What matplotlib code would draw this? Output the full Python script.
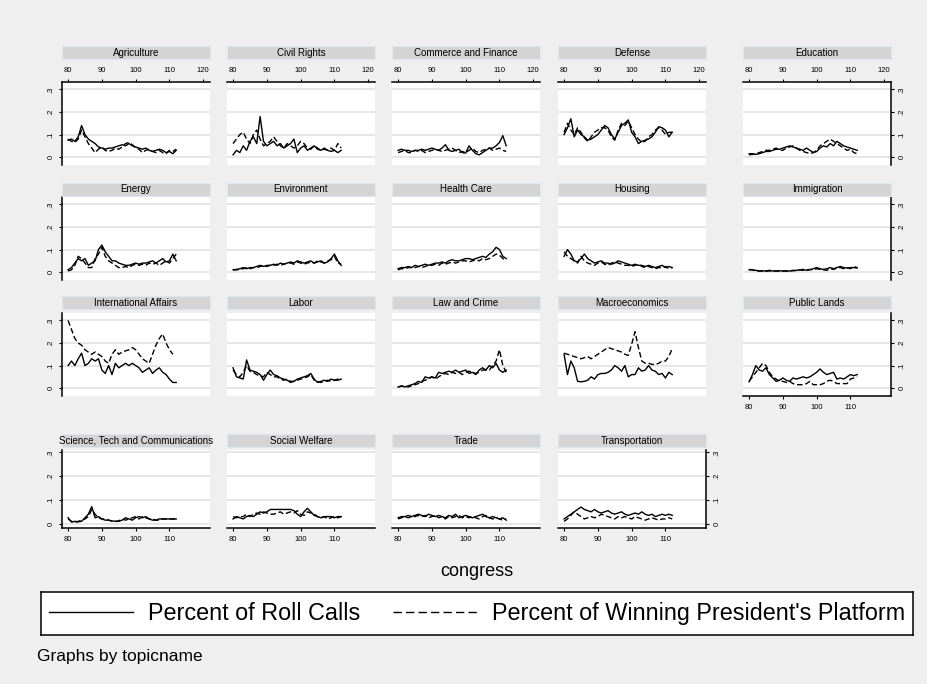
import numpy as np
import matplotlib
matplotlib.use("Agg")
import matplotlib.pyplot as plt
from matplotlib.lines import Line2D

plt.rcParams['font.family'] = ['Liberation Sans', 'DejaVu Sans']

nan = np.nan
congress = list(range(80, 113))

# percent of roll calls (solid) / percent of winning president's platform (dashed)
agri_roll = [.075,.08,.07,.09,.14,.10,.08,.07,.06,.045, .04,.035,.04,.04,.045,.05,.055,.05,.06,.05, .045,.04,.035,.04,.03,.025,.03,.035,.03,.02, .025,.015,.03]
agri_plat = [.08,.07,.065,.08,.12,.09,.06,.04,.02,.035, .045,.03,.025,.03,.04,.035,.045,.06,.065,.055, .04,.035,.02,.03,.035,.025,.02,.03,.02,.015, .03,.025,.035]
civil_roll = [.01,.03,.02,.05,.03,.07,.09,.06,.18,.07, .05,.06,.07,.05,.06,.04,.05,.06,.08,.02, .04,.05,.03,.04,.05,.035,.03,.04,.03,.025, .03,.02,.03]
civil_plat = [.06,.08,.1,.11,.08,.06,.1,.12,.08,.05, .06,.07,.09,.07,.05,.04,.06,.05,.04,.05, .07,.06,.04,.035,.05,.04,.03,.035,.03,.04, .03,.06,.04]
comm_roll = [.03,.035,.03,.03,.025,.03,.03,.035,.03,.035, .04,.035,.03,.04,.055,.03,.025,.03,.035,.02, .018,.05,.03,.015,.01,.02,.03,.04,.04,.05, .065,.095,.05]
comm_plat = [.02,.025,.03,.02,.02,.03,.025,.03,.02,.025, .03,.035,.03,.025,.03,.035,.04,.03,.02,.025, .02,.03,.04,.025,.02,.03,.035,.04,.03,.035, .04,.03,.025]
def_roll = [.10,.13,.17,.09,.12,.10,.09,.075,.08,.09, .10,.12,.14,.13,.10,.08,.11,.14,.15,.165, .11,.09,.06,.07,.075,.08,.09,.11,.135,.13, .12,.09,.11]
def_plat = [.11,.15,.12,.10,.13,.11,.085,.07,.09,.11, .12,.13,.13,.12,.09,.075,.12,.15,.14,.16, .13,.10,.08,.065,.07,.09,.10,.12,.13,.12, .10,.11,.11]
edu_roll = [.015,.015,.012,.015,.02,.025,.025,.03,.035,.035, .04,.045,.05,.045,.04,.035,.03,.04,.03,.02, .025,.04,.05,.045,.06,.05,.07,.06,.05,.045, .04,.035,.03]
edu_plat = [.01,.012,.015,.02,.025,.03,.03,.035,.04,.03, .03,.04,.045,.05,.04,.03,.025,.02,.016,.02, .03,.05,.06,.07,.08,.07,.06,.05,.04,.03, .035,.02,.015]
energy_roll = [.01,.02,.04,.06,.05,.06,.03,.04,.05,.10, .12,.09,.07,.05,.05,.04,.035,.03,.03,.035, .04,.035,.04,.04,.045,.05,.04,.05,.06,.045, .05,.08,.05]
energy_plat = [.005,.01,.03,.07,.06,.04,.02,.02,.06,.08, .11,.07,.05,.04,.03,.02,.02,.025,.02,.03, .035,.03,.035,.03,.04,.035,.04,.03,.04,.05, .04,.06,.08]
env_roll = [.01,.012,.015,.02,.015,.02,.02,.025,.03,.025, .03,.03,.035,.03,.04,.035,.04,.045,.04,.05, .045,.04,.045,.05,.04,.045,.05,.04,.045,.06, .08,.05,.03]
env_plat = [.01,.01,.012,.015,.02,.015,.02,.02,.025,.03, .025,.03,.03,.035,.03,.035,.04,.04,.035,.045, .04,.035,.04,.045,.04,.05,.045,.04,.05,.055, .07,.04,.035]
health_roll = [.015,.02,.02,.025,.02,.03,.025,.03,.035,.03, .035,.04,.04,.045,.04,.05,.055,.05,.05,.055, .06,.06,.055,.06,.065,.07,.065,.08,.09,.11, .10,.07,.06]
health_plat = [.01,.015,.015,.02,.02,.02,.025,.02,.025,.03, .03,.035,.03,.04,.035,.04,.045,.04,.045,.05, .05,.045,.05,.055,.05,.06,.055,.06,.07,.08, .075,.06,.05]
housing_roll = [.07,.10,.08,.05,.045,.06,.08,.06,.05,.04, .045,.05,.04,.04,.035,.04,.05,.045,.04,.035, .03,.035,.03,.03,.025,.03,.025,.02,.025,.03, .02,.025,.02]
housing_plat = [.09,.07,.06,.05,.04,.07,.05,.04,.035,.03, .04,.045,.035,.03,.04,.045,.04,.035,.03,.03, .025,.03,.035,.025,.02,.025,.02,.015,.02,.02, .025,.015,.02]
immig_roll = [.01,.01,.008,.005,.006,.005,.008,.005,.005,.006, .005,.004,.005,.006,.008,.01,.012,.008,.01,.015, .02,.015,.012,.015,.02,.015,.02,.025,.02,.018, .02,.02,.018]
immig_plat = [.012,.01,.005,.005,.004,.004,.005,.004,.005,.004, .004,.006,.005,.008,.006,.01,.008,.01,.012,.01, .015,.012,.01,.008,.015,.012,.018,.02,.015,.02, .015,.025,.02]
intl_roll = [.10,.12,.10,.13,.155,.10,.11,.13,.12,.13, .08,.065,.10,.06,.11,.09,.10,.11,.10,.11, .10,.09,.07,.08,.09,.065,.08,.09,.07,.06, .04,.025,.025]
intl_plat = [.30,.26,.22,.20,.19,.17,.16,.15,.16,.15, .14,.12,.11,.15,.17,.15,.16,.165,.17,.18, .17,.15,.13,.12,.11,.15,.19,.22,.24,.20, .17,.15,nan]
labor_roll = [.09,.05,.045,.04,.125,.08,.075,.07,.06,.035, .06,.08,.06,.055,.045,.04,.035,.025,.03,.04, .045,.05,.055,.065,.04,.025,.03,.035,.03,.04, .035,.035,.04]
labor_plat = [.08,.06,.05,.07,.10,.075,.07,.06,.055,.05, .07,.06,.05,.05,.04,.035,.04,.03,.03,.035, .04,.045,.05,.06,.035,.03,.025,.03,.035,.03, .035,.04,.035]
law_roll = [.005,.01,.005,.01,.015,.02,.03,.025,.05,.045, .05,.045,.07,.065,.07,.075,.07,.08,.07,.075, .08,.065,.07,.06,.08,.09,.08,.1,.09,.11, .08,.07,.08]
law_plat = [.005,.008,.01,.005,.01,.015,.02,.03,.035,.04, .05,.04,.05,.06,.065,.06,.07,.065,.07,.06, .07,.075,.07,.065,.07,.08,.08,.08,.1,.12, .17,.1,.07]
macro_roll = [.15,.06,.12,.09,.03,.028,.03,.035,.05,.04, .06,.065,.065,.07,.08,.10,.09,.075,.10,.05, .06,.06,.09,.075,.08,.10,.08,.075,.06,.065, .045,.07,.06]
macro_plat = [.155,.15,.145,.14,.135,.13,.135,.14,.13,.14, .15,.16,.17,.18,.175,.17,.165,.16,.15,.145, .195,.25,.18,.12,.11,.11,.105,.105,.11,.12, .12,.14,.175]
lands_roll = [.028,.06,.10,.08,.075,.09,.06,.045,.03,.035, .045,.035,.03,.045,.04,.045,.05,.045,.05,.06, .07,.085,.07,.06,.065,.07,.04,.045,.04,.05, .06,.055,.06]
lands_plat = [.03,.05,.07,.09,.11,.10,.07,.05,.04,.03, .03,.025,.03,.02,.015,.015,.015,.02,.03,.015, .015,.015,.02,.03,.035,.03,.02,.02,.02,.02, .04,.045,.05]
sci_roll = [.025,.007,.01,.008,.01,.025,.04,.072,.025,.03, .02,.015,.015,.012,.01,.01,.015,.025,.02,.015, .025,.03,.025,.03,.02,.015,.015,.02,.02,.02, .02,.02,.02]
sci_plat = [.02,.01,.005,.01,.015,.02,.03,.06,.04,.025, .02,.02,.015,.01,.01,.012,.02,.015,.02,.025, .03,.02,.03,.025,.02,.02,.015,.015,.02,.02, .02,.02,.02]
social_roll = [.02,.03,.025,.02,.03,.035,.03,.04,.05,.045, .05,.06,.06,.06,.06,.06,.06,.06,.055,.04, .03,.05,.065,.05,.035,.03,.025,.03,.03,.03, .025,.03,.03]
social_plat = [.03,.025,.03,.03,.04,.03,.04,.045,.04,.05, .045,.04,.04,.045,.05,.04,.045,.05,.045,.055, .04,.035,.05,.045,.04,.03,.025,.03,.02,.025, .03,.025,.03]
trade_roll = [.025,.03,.03,.025,.03,.035,.04,.035,.03,.04, .035,.03,.035,.03,.025,.035,.03,.04,.025,.03, .035,.03,.025,.03,.035,.04,.03,.025,.03,.025, .02,.025,.015]
trade_plat = [.02,.025,.03,.035,.03,.03,.035,.03,.035,.025, .03,.035,.025,.03,.02,.03,.025,.03,.035,.025, .03,.025,.03,.025,.02,.03,.035,.025,.02,.025, .02,.015,.02]
trans_roll = [.02,.03,.04,.05,.06,.07,.06,.055,.05,.06, .05,.045,.05,.055,.045,.04,.045,.05,.04,.035, .04,.045,.04,.05,.04,.035,.04,.03,.035,.04, .035,.04,.035]
trans_plat = [.01,.02,.035,.05,.04,.03,.02,.025,.03,.025, .03,.04,.035,.03,.025,.02,.03,.025,.03,.025, .02,.03,.025,.02,.015,.02,.025,.02,.015,.02, .02,.025,.02]

topics = ["Agriculture", "Civil Rights", "Commerce and Finance", "Defense", "Education",
          "Energy", "Environment", "Health Care", "Housing", "Immigration",
          "International Affairs", "Labor", "Law and Crime", "Macroeconomics", "Public Lands",
          "Science, Tech and Communications", "Social Welfare", "Trade", "Transportation"]
rolls = [agri_roll, civil_roll, comm_roll, def_roll, edu_roll, energy_roll, env_roll,
         health_roll, housing_roll, immig_roll, intl_roll, labor_roll, law_roll,
         macro_roll, lands_roll, sci_roll, social_roll, trade_roll, trans_roll]
plats = [agri_plat, civil_plat, comm_plat, def_plat, edu_plat, energy_plat, env_plat,
         health_plat, housing_plat, immig_plat, intl_plat, labor_plat, law_plat,
         macro_plat, lands_plat, sci_plat, social_plat, trade_plat, trans_plat]

W, H = 928, 684
bg = '#efefef'
fig = plt.figure(figsize=(W / 100, H / 100), dpi=100, facecolor=bg)

def frac(x0, y0, x1, y1):
    return [x0 / W, 1 - y1 / H, (x1 - x0) / W, (y1 - y0) / H]

col_left = [62, 227, 392, 558, 743]
pw = 148
rows = [(82, 165), (197, 280), (313, 396), (450, 528)]
strips = [(46, 59), (183, 196), (296, 309), (434, 447)]
ylims = [(-0.035, 0.333)] * 3 + [(-0.018, 0.31)]
dash = (0, (4, 2))

for i, name in enumerate(topics):
    r, c = divmod(i, 5)
    x0 = col_left[c]
    top, bot = rows[r]
    ax = fig.add_axes(frac(x0, top, x0 + pw, bot))
    ax.set_facecolor('white')
    ax.plot(congress, rolls[i], color='black', lw=1.0)
    ax.plot(congress, plats[i], color='black', lw=1.0, ls=dash)
    ax.set_xlim(78.2, 122)
    ax.set_ylim(*ylims[r])
    ax.set_yticks([0, .1, .2, .3])
    ax.set_yticklabels(['0', '.1', '.2', '.3'], rotation=90, va='center')
    if r == 0:
        ax.set_xticks([80, 90, 100, 110, 120])
    else:
        ax.set_xticks([80, 90, 100, 110])
    ax.grid(axis='y', color='#e4e4e4', lw=1.3)
    ax.set_axisbelow(True)

    last = (c == 4) or (r == 3 and c == 3)
    show = {'left': c == 0, 'right': last, 'top': r == 0,
            'bottom': r == 3 or (r == 2 and c == 4)}
    for side, sp in ax.spines.items():
        sp.set_visible(show[side])
        sp.set_linewidth(1.1)
    ax.tick_params(axis='y', left=show['left'], labelleft=show['left'],
                   right=show['right'], labelright=show['right'],
                   labelsize=5.5, length=2.5, width=0.8, pad=3)
    ax.tick_params(axis='x', top=show['top'], labeltop=show['top'],
                   bottom=show['bottom'], labelbottom=show['bottom'],
                   labelsize=5.5, length=2.5, width=0.8, pad=3)

    st, sb = strips[r]
    sax = fig.add_axes(frac(x0, st, x0 + pw, sb))
    sax.set_facecolor('#d4d4d4')
    sax.set_xticks([])
    sax.set_yticks([])
    for sp in sax.spines.values():
        sp.set_color('#dbe8ee')
        sp.set_linewidth(0.8)
    sax.text(0.5, 0.5, name, ha='center', va='center', fontsize=7,
             transform=sax.transAxes)

fig.text(477 / W, 1 - 572 / H, 'congress', ha='center', va='center', fontsize=13)

# legend box
lax = fig.add_axes(frac(41, 592, 913, 635))
lax.set_facecolor('white')
lax.set_xticks([])
lax.set_yticks([])
for sp in lax.spines.values():
    sp.set_linewidth(1.1)
handles = [Line2D([], [], color='black', lw=1.0),
           Line2D([], [], color='black', lw=1.0, ls=(0, (6, 3)))]
lax.legend(handles, ['Percent of Roll Calls', "Percent of Winning President's Platform"],
           loc='center', ncol=2, frameon=False, fontsize=16.8,
           handlelength=3.6, handletextpad=0.65, columnspacing=1.4)

fig.text(37 / W, 1 - 657 / H, 'Graphs by topicname', ha='left', va='center', fontsize=12.5)

fig.savefig('out.png', dpi=100, facecolor=bg)
